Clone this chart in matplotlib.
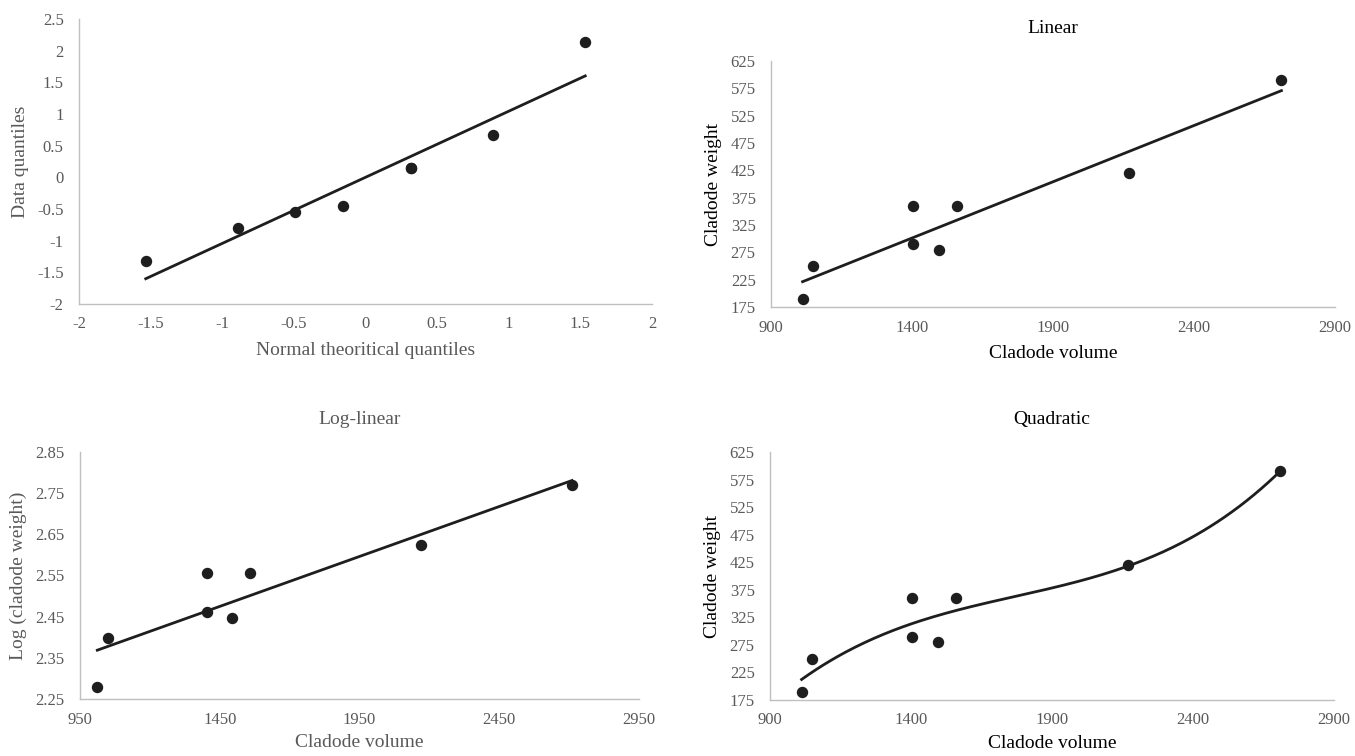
import numpy as np
import matplotlib
matplotlib.use('Agg')
import matplotlib.pyplot as plt
from matplotlib.ticker import FuncFormatter

plt.rcParams['font.family'] = ['Liberation Serif', 'DejaVu Serif']

# 数据
theo_q = [-1.534, -0.887, -0.489, -0.157, 0.319, 0.319, 0.887, 1.534]
data_q = [-1.32, -0.80, -0.54, -0.455, 0.15, 0.15, 0.67, 2.14]

volume = [1012, 1050, 1405, 1405, 1495, 1560, 2170, 2710]
weight = [190, 250, 290, 360, 280, 360, 420, 590]
log_weight = [2.279, 2.398, 2.462, 2.556, 2.447, 2.556, 2.623, 2.771]

GRAY = '#595959'
SPINE = '#bfbfbf'
DOT = '#1e1e1e'

fig = plt.figure(figsize=(13.55, 7.56), dpi=100)
W, H = 1355, 756

def make_ax(left, right, top, bottom):
    return fig.add_axes([left / W, 1 - bottom / H, (right - left) / W, (bottom - top) / H])

def style(ax, label_color, title=None, title_color='black'):
    for s in ['top', 'right']:
        ax.spines[s].set_visible(False)
    for s in ['left', 'bottom']:
        ax.spines[s].set_color(SPINE)
        ax.spines[s].set_linewidth(1.0)
    ax.tick_params(length=0, labelsize=12, labelcolor=GRAY)
    ax.tick_params(axis='x', pad=9)
    ax.tick_params(axis='y', pad=11)
    ax.xaxis.label.set_color(label_color)
    ax.yaxis.label.set_color(label_color)
    if title:
        ax.set_title(title, fontsize=14, color=title_color, pad=20)

def fit_line(ax, x, y, deg):
    c = np.polyfit(x, y, deg)
    xs = np.linspace(min(x), max(x), 200)
    ax.plot(xs, np.polyval(c, xs), color=DOT, lw=2.0, zorder=2)

g = FuncFormatter(lambda v, p: ('%g' % v).replace('\u2212', '-'))

# Q-Q 图
ax1 = make_ax(79, 652, 19, 304)
fit_line(ax1, theo_q, data_q, 1)
ax1.plot(theo_q, data_q, 'o', color=DOT, ms=7.2, zorder=3)
ax1.set_xlim(-2, 2)
ax1.set_ylim(-2, 2.5)
ax1.set_xticks(np.arange(-2, 2.01, 0.5))
ax1.set_yticks(np.arange(-2, 2.51, 0.5))
ax1.xaxis.set_major_formatter(g)
ax1.yaxis.set_major_formatter(g)
ax1.set_xlabel('Normal theoritical quantiles', fontsize=14, labelpad=7)
ax1.set_ylabel('Data quantiles', fontsize=14, labelpad=6)
style(ax1, GRAY)

# Linear
ax2 = make_ax(771, 1335, 61, 307)
fit_line(ax2, volume, weight, 1)
ax2.plot(volume, weight, 'o', color=DOT, ms=7.2, zorder=3)
ax2.set_xlim(900, 2900)
ax2.set_ylim(175, 625)
ax2.set_xticks(np.arange(900, 2901, 500))
ax2.set_yticks(np.arange(175, 626, 50))
ax2.set_xlabel('Cladode volume', fontsize=14, labelpad=7)
ax2.set_ylabel('Cladode weight', fontsize=14, labelpad=6)
style(ax2, 'black', 'Linear')

# Log-linear
ax3 = make_ax(80, 639, 452, 699)
fit_line(ax3, volume, log_weight, 1)
ax3.plot(volume, log_weight, 'o', color=DOT, ms=7.2, zorder=3)
ax3.set_xlim(950, 2950)
ax3.set_ylim(2.25, 2.85)
ax3.set_xticks(np.arange(950, 2951, 500))
ax3.set_yticks(np.arange(2.25, 2.851, 0.1))
ax3.yaxis.set_major_formatter(FuncFormatter(lambda v, p: '%.2f' % v))
ax3.set_xlabel('Cladode volume', fontsize=14, labelpad=5)
ax3.set_ylabel('Log (cladode weight)', fontsize=14, labelpad=6)
style(ax3, GRAY, 'Log-linear', GRAY)

# Quadratic（趋势线为三次多项式）
ax4 = make_ax(770, 1334, 452, 700)
fit_line(ax4, volume, weight, 3)
ax4.plot(volume, weight, 'o', color=DOT, ms=7.2, zorder=3)
ax4.set_xlim(900, 2900)
ax4.set_ylim(175, 625)
ax4.set_xticks(np.arange(900, 2901, 500))
ax4.set_yticks(np.arange(175, 626, 50))
ax4.set_xlabel('Cladode volume', fontsize=14, labelpad=5)
ax4.set_ylabel('Cladode weight', fontsize=14, labelpad=6)
style(ax4, 'black', 'Quadratic')

fig.savefig('out.png', dpi=100)
